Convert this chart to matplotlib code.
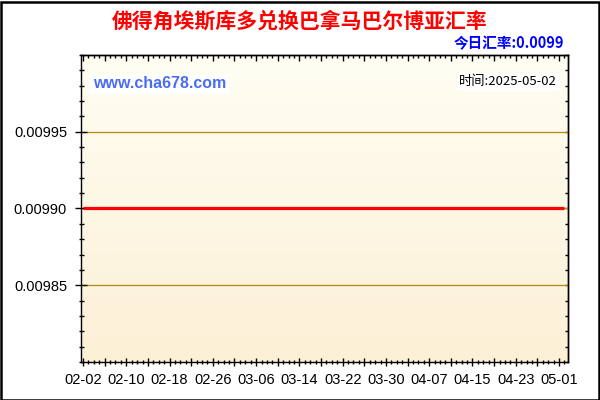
import matplotlib
matplotlib.use("Agg")
import matplotlib.pyplot as plt
import matplotlib.dates as mdates
from matplotlib.ticker import FixedLocator, FuncFormatter, MultipleLocator
import numpy as np
import pandas as pd

# ---- data ----
title = "佛得角埃斯库多兑换巴拿马巴尔博亚汇率"
today_label = "今日汇率:0.0099"
time_label = "时间:2025-05-02"
site_label = "www.cha678.com"
start_date = "2025-02-02"
end_date = "2025-05-02"
rates = [
    0.0099, 0.0099, 0.0099, 0.0099, 0.0099, 0.0099, 0.0099, 0.0099, 0.0099, 0.0099,
    0.0099, 0.0099, 0.0099, 0.0099, 0.0099, 0.0099, 0.0099, 0.0099, 0.0099, 0.0099,
    0.0099, 0.0099, 0.0099, 0.0099, 0.0099, 0.0099, 0.0099, 0.0099, 0.0099, 0.0099,
    0.0099, 0.0099, 0.0099, 0.0099, 0.0099, 0.0099, 0.0099, 0.0099, 0.0099, 0.0099,
    0.0099, 0.0099, 0.0099, 0.0099, 0.0099, 0.0099, 0.0099, 0.0099, 0.0099, 0.0099,
    0.0099, 0.0099, 0.0099, 0.0099, 0.0099, 0.0099, 0.0099, 0.0099, 0.0099, 0.0099,
    0.0099, 0.0099, 0.0099, 0.0099, 0.0099, 0.0099, 0.0099, 0.0099, 0.0099, 0.0099,
    0.0099, 0.0099, 0.0099, 0.0099, 0.0099, 0.0099, 0.0099, 0.0099, 0.0099, 0.0099,
    0.0099, 0.0099, 0.0099, 0.0099, 0.0099, 0.0099, 0.0099, 0.0099, 0.0099, 0.0099,
]
y_ticks = [0.00985, 0.00990, 0.00995]
y_min, y_max = 0.00980, 0.01000

dates = pd.date_range(start_date, end_date, freq="D")[:len(rates)]

plt.rcParams['font.family'] = ['Liberation Sans', 'Noto Sans CJK SC', 'DejaVu Sans']
cjk = ['Noto Sans CJK SC', 'DejaVu Sans']

fig = plt.figure(figsize=(6, 4), dpi=100, facecolor='white')
ax = fig.add_axes([81/600, 38/400, 487/600, 307/400])

x = mdates.date2num(dates)
x0 = x[0]
ax.set_xlim(x0 - 0.37, x0 + 89.66)
ax.set_ylim(y_min, y_max)

# gradient background
grad = np.linspace(0, 1, 256).reshape(-1, 1)
top_c = np.array([255, 254, 243]) / 255
bot_c = np.array([252, 240, 214]) / 255
img = top_c * (1 - grad[..., None]) + bot_c * grad[..., None]
img = img.reshape(256, 1, 3)
ax.imshow(img, extent=[0, 1, 0, 1], transform=ax.transAxes, aspect='auto', zorder=0)

ax.grid(axis='y', which='major', color='#b08a10', lw=0.9, zorder=1)
ax.plot(dates, rates, color='#ff0000', lw=2.3, zorder=3, solid_capstyle='butt')

# x ticks
major_x = x0 + np.arange(0, 92, 4)
minor_x = x0 + np.arange(0, 91, 1)
ax.xaxis.set_major_locator(FixedLocator(major_x))
ax.xaxis.set_minor_locator(FixedLocator(minor_x))
def xfmt(v, pos):
    d = int(round(v - x0))
    if d % 8 == 0:
        return mdates.num2date(v).strftime('%m-%d')
    return ''
ax.xaxis.set_major_formatter(FuncFormatter(xfmt))
ax.tick_params(axis='x', which='major', direction='inout', length=6, width=1, labelsize=10.5, pad=5)
ax.tick_params(axis='x', which='minor', direction='inout', length=3, width=1)

# y ticks
ax.yaxis.set_major_locator(FixedLocator(y_ticks))
ax.yaxis.set_minor_locator(MultipleLocator(0.00001))
ax.yaxis.set_major_formatter(FuncFormatter(lambda v, p: f"{v:.5f}"))
ax.tick_params(axis='y', which='major', direction='inout', length=8, width=1, labelsize=10.5, pad=6)
ax.tick_params(axis='y', which='minor', direction='inout', length=3.6, width=1)

# top / right ticks inward
secx = ax.secondary_xaxis('top')
secx.xaxis.set_major_locator(FixedLocator(major_x))
secx.xaxis.set_minor_locator(FixedLocator(minor_x))
secx.tick_params(which='major', direction='in', length=4, width=1, labeltop=False)
secx.tick_params(which='minor', direction='in', length=2.2, width=1)
secx.spines['top'].set_linewidth(1)

secy = ax.secondary_yaxis('right')
secy.yaxis.set_major_locator(MultipleLocator(0.00001))
secy.tick_params(which='major', direction='in', length=2.5, width=1, labelright=False)
secy.spines['right'].set_linewidth(1)

for s in ax.spines.values():
    s.set_linewidth(1)
    s.set_color('black')

# texts
fig.text(300/600, 1 - 21/400, title, ha='center', va='center', fontsize=15,
         fontweight='bold', color='#ff0000', family=cjk)
fig.text(564/600, 1 - 43/400, today_label, ha='right', va='center', fontsize=10.5,
         fontweight='bold', color='#0000ff', family=cjk)
ax.text(93/600, 1 - 84/400, site_label, transform=fig.transFigure, ha='left', va='center',
        fontsize=11.5, fontweight='bold', color='#4a6cf5', family=['Liberation Sans'],
        bbox=dict(facecolor='white', edgecolor='none', pad=2), zorder=5)
ax.text(557/600, 1 - 82/400, time_label, transform=fig.transFigure, ha='right', va='center',
        fontsize=9.5, color='black', family=cjk,
        bbox=dict(facecolor='white', edgecolor='none', pad=1.5), zorder=5)

# outer border
fig.patches.append(plt.Rectangle((0.5/600, 0.5/400), 598/600, 398/400, transform=fig.transFigure,
                                 fill=False, edgecolor='black', lw=1.8))

fig.savefig('out.png', dpi=100, facecolor='white')
